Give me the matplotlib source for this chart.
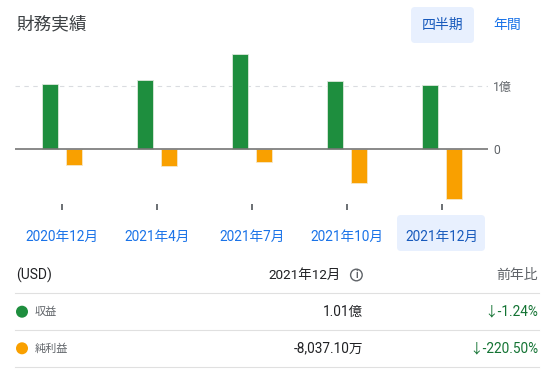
import matplotlib
matplotlib.use("Agg")
import matplotlib.pyplot as plt
import numpy as np
from matplotlib.patches import FancyBboxPatch, Circle

plt.rcParams['font.family'] = ['Roboto', 'Noto Sans CJK JP', 'DejaVu Sans']

# ====== data (億 USD) ======
quarters = ["2020年12月", "2021年4月", "2021年7月", "2021年10月", "2021年12月"]
revenue = [1.025, 1.09, 1.50, 1.075, 1.015]
net_income = [-0.25, -0.275, -0.20, -0.545, -0.80]

table_names = ["収益", "純利益"]
table_values = ["1.01億", "-8,037.10万"]
table_yoy = ["↓-1.24%", "↓-220.50%"]

GREEN = '#1e8e3e'
ORANGE = '#f9a000'

W, H = 556, 373


def fig_rect(x0, y0, x1, y1):
    return [x0 / W, 1 - y1 / H, (x1 - x0) / W, (y1 - y0) / H]


fig = plt.figure(figsize=(W / 100, H / 100), dpi=100)

# overlay in pixel coords for the page furniture
ov = fig.add_axes([0, 0, 1, 1])
ov.set_xlim(0, W)
ov.set_ylim(H, 0)
ov.axis('off')

# title + period buttons
ov.text(16, 24, "財務実績", fontsize=12.7, color='#3c4043', ha='left', va='center')
ov.add_patch(FancyBboxPatch((411, 7), 63, 36, boxstyle='round,pad=0,rounding_size=4',
                            fc='#e8f0fe', ec='none'))
ov.text(442.5, 25, "四半期", fontsize=10, color='#185abc', ha='center', va='center')
ov.text(507, 25, "年間", fontsize=10, color='#1a73e8', ha='center', va='center')

# selected quarter highlight
ov.add_patch(FancyBboxPatch((397, 215), 88, 36, boxstyle='round,pad=0,rounding_size=4',
                            fc='#e8f0fe', ec='none'))

# ====== bar chart ======
ax = fig.add_axes(fig_rect(14.9, 40, 487.6, 204))
ax.patch.set_alpha(0)
x = np.arange(len(quarters))
ax.bar(x - 0.1275, revenue, width=0.169, color=GREEN, edgecolor='#dce8dc', linewidth=0.6, zorder=3)
ax.bar(x + 0.1255, net_income, width=0.169, color=ORANGE, edgecolor='#f6e8c8', linewidth=0.6, zorder=3)
ax.axhline(0, color='#757575', lw=1.2, zorder=4)
ax.axhline(1, color='#dadce0', lw=0.8, ls=(0, (4, 4)), zorder=1)
ax.set_xlim(-0.497, 4.484)
ax.set_ylim(-0.873, 1.730)
for s in ax.spines.values():
    s.set_visible(False)

ax.set_xticks(x, quarters)
ax.tick_params(axis='x', length=4, width=1.3, color='#5f6368', pad=15,
               labelsize=9.8, labelcolor='#1a73e8')
ax.get_xticklabels()[-1].set_color('#185abc')

ax.yaxis.tick_right()
ax.set_yticks([0, 1], ['0', '1億'])
ax.tick_params(axis='y', length=0, pad=4, labelsize=8.7, labelcolor='#5f6368')

# ====== table ======
ov.text(16, 275.5, "(USD)", fontsize=10, color='#202124', ha='left', va='center')
ov.text(340.4, 275.5, quarters[-1], fontsize=9.7, color='#202124', ha='right', va='center')
ov.add_patch(Circle((356.4, 275), 5.8, fc='none', ec='#5f6368', lw=1))
ov.text(356.4, 275.3, "i", fontsize=7, color='#5f6368', ha='center', va='center', weight='bold')
ov.text(538.3, 275.5, "前年比", fontsize=10, color='#5f6368', ha='right', va='center')

for yy in [293.3, 330.3, 366.7]:
    ov.plot([15, 539], [yy, yy], color='#e0e0e0', lw=0.8)

row_y = [311.7, 348.3]
for name, val, yoy, col, yy in zip(table_names, table_values, table_yoy, [GREEN, ORANGE], row_y):
    ov.add_patch(Circle((22, yy), 6, fc=col, ec='none'))
    ov.text(34.4, yy, name, fontsize=8, color='#5f6368', ha='left', va='center')
    ov.text(363.5, yy, val, fontsize=9.8, color='#202124', ha='right', va='center')
    ov.text(538.3, yy, yoy, fontsize=9.8, color='#137333', ha='right', va='center')

fig.savefig("out.png", dpi=100)
